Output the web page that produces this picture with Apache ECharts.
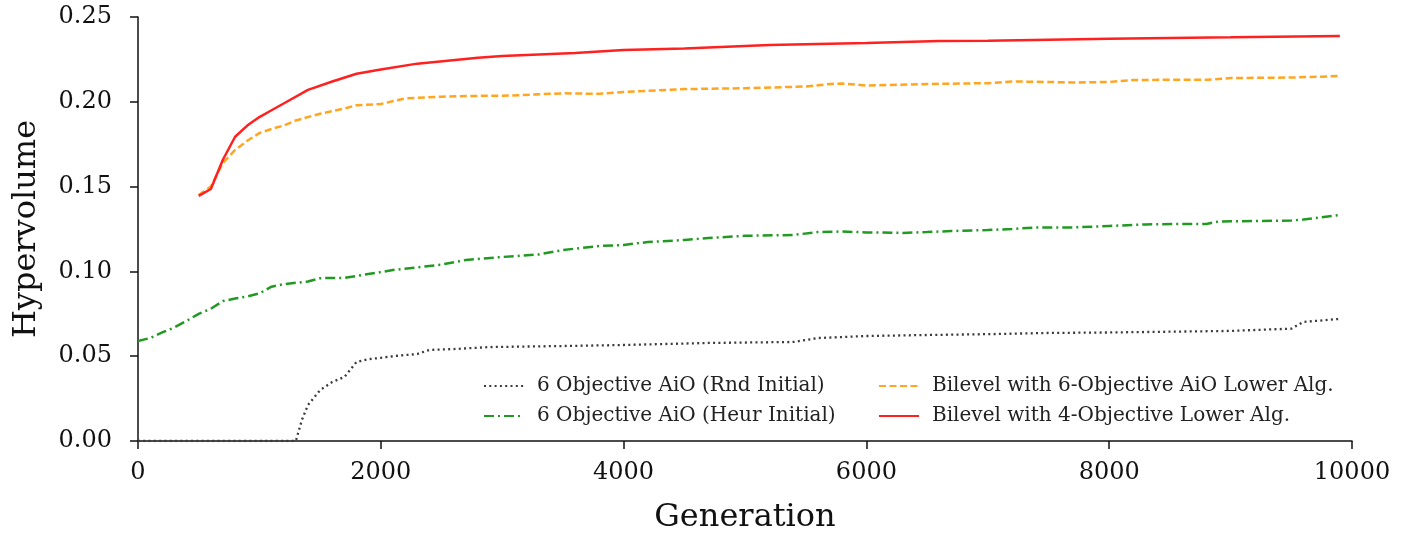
<!DOCTYPE html>
<html>
<head>
<meta charset="utf-8">
<script src="https://cdn.jsdelivr.net/npm/echarts@6/dist/echarts.min.js"></script>
<style>html,body{margin:0;padding:0;background:#fff;}#c{width:1408px;height:537px;}</style>
</head>
<body>
<div id="c"></div>
<script>
const rndGen = [0,1300,1350,1400,1500,1600,1700,1800,1900,2000,2100,2300,2400,2600,2900,3500,4000,4700,5400,5600,6000,6500,7000,7500,8000,9000,9400,9500,9600,9900];
const rndVal = [0,0,0.0124,0.0212,0.030,0.0348,0.0377,0.0466,0.0483,0.049,0.050,0.0513,0.0537,0.0542,0.0554,0.056,0.0566,0.0578,0.0584,0.0607,0.0619,0.0625,0.063,0.0637,0.064,0.0649,0.066,0.0662,0.0702,0.072];

const heurGen = [0,100,200,300,400,500,600,700,800,900,1000,1100,1200,1400,1500,1700,2000,2100,2500,2700,3000,3300,3500,3800,4000,4200,4500,4700,5000,5400,5600,5800,6000,6300,6500,6700,7000,7200,7400,7700,8000,8300,8600,8800,8900,9200,9500,9600,9900];
const heurVal = [0.059,0.0607,0.064,0.067,0.0708,0.075,0.078,0.0825,0.084,0.0852,0.087,0.091,0.0925,0.094,0.096,0.0962,0.0996,0.1008,0.104,0.1067,0.1085,0.110,0.1126,0.115,0.1156,0.1173,0.1185,0.1197,0.121,0.1215,0.1232,0.1235,0.123,0.1227,0.1232,0.1238,0.1244,0.125,0.1259,0.1259,0.1268,0.1277,0.128,0.128,0.1294,0.1297,0.13,0.1306,0.1333];

const bi6Gen = [500,600,700,800,900,1000,1100,1200,1300,1500,1700,1800,2000,2200,2500,2800,3000,3500,3800,4000,4500,5000,5500,5700,5800,6000,6500,7000,7200,7500,7700,8000,8200,8500,8800,9000,9500,9900];
const bi6Val = [0.145,0.150,0.164,0.1716,0.177,0.1816,0.184,0.186,0.189,0.193,0.196,0.198,0.1987,0.202,0.203,0.2035,0.2035,0.205,0.2047,0.2058,0.2075,0.208,0.209,0.2105,0.2108,0.2096,0.2105,0.211,0.212,0.2117,0.2114,0.2117,0.2128,0.213,0.213,0.214,0.2143,0.2152];

const bi4Gen = [500,600,700,800,900,1000,1100,1200,1400,1600,1800,2000,2300,2800,3000,3600,4000,4500,5200,6000,6600,7000,8000,9000,9900];
const bi4Val = [0.1445,0.1486,0.166,0.1794,0.186,0.191,0.195,0.199,0.207,0.212,0.2165,0.219,0.2225,0.226,0.227,0.2288,0.2305,0.2315,0.2335,0.2347,0.2358,0.236,0.2372,0.238,0.2388];

const seriesNames = ['6 Objective AiO (Rnd Initial)','6 Objective AiO (Heur Initial)','Bilevel with 6-Objective AiO Lower Alg.','Bilevel with 4-Objective Lower Alg.'];

const zip = (g,v) => g.map((x,i)=>[x,v[i]]);
const font = 'DejaVu Serif';

const legendCommon = {orient:'vertical',top:371,itemGap:10,itemWidth:40,itemHeight:14,
  itemStyle:{opacity:0},
  textStyle:{fontFamily:font,fontSize:20,color:'#222',lineHeight:20,padding:[0,0,0,8]}};

const chart = echarts.init(document.getElementById('c'), null, {renderer:'canvas'});
chart.setOption({
  animation:false,
  backgroundColor:'#fff',
  grid:{left:138,right:56,top:17,bottom:96,outerBoundsMode:'none',containLabel:false},
  xAxis:{
    type:'value',min:0,max:10000,interval:2000,
    name:'Generation',nameLocation:'middle',nameGap:61,
    nameTextStyle:{fontFamily:font,fontSize:32,color:'#111'},
    axisLine:{show:true,lineStyle:{color:'#111',width:1.5}},
    axisTick:{show:true,length:8,lineStyle:{color:'#111',width:1.5}},
    axisLabel:{fontFamily:font,fontSize:24,color:'#111',margin:20,formatter:v=>String(v)},
    splitLine:{show:false}
  },
  yAxis:{
    type:'value',min:0,max:0.25,interval:0.05,
    name:'Hypervolume',nameLocation:'middle',nameGap:95,
    nameTextStyle:{fontFamily:font,fontSize:32,color:'#111'},
    axisLine:{show:true,lineStyle:{color:'#111',width:1.5}},
    axisTick:{show:true,length:8,lineStyle:{color:'#111',width:1.5}},
    axisLabel:{fontFamily:font,fontSize:24,color:'#111',margin:26,formatter:v=>v.toFixed(2)},
    splitLine:{show:false}
  },
  legend:[
    Object.assign({data:[seriesNames[0],seriesNames[1]],left:478}, legendCommon),
    Object.assign({data:[seriesNames[2],seriesNames[3]],left:873}, legendCommon)
  ],
  series:[
    {name:seriesNames[0],type:'line',data:zip(rndGen,rndVal),showSymbol:false,symbol:'none',
     lineStyle:{color:'#3a3a3a',width:2.3,type:[2,3.3]},itemStyle:{color:'#3a3a3a'}},
    {name:seriesNames[1],type:'line',data:zip(heurGen,heurVal),showSymbol:false,symbol:'none',
     lineStyle:{color:'#229922',width:2.5,type:[10,4,2,4]},itemStyle:{color:'#229922'}},
    {name:seriesNames[2],type:'line',data:zip(bi6Gen,bi6Val),showSymbol:false,symbol:'none',
     lineStyle:{color:'#ffa520',width:2.5,type:[7,3.5]},itemStyle:{color:'#ffa520'}},
    {name:seriesNames[3],type:'line',data:zip(bi4Gen,bi4Val),showSymbol:false,symbol:'none',
     lineStyle:{color:'#ff2020',width:2.5,type:'solid'},itemStyle:{color:'#ff2020'}}
  ]
});
</script>
</body>
</html>
